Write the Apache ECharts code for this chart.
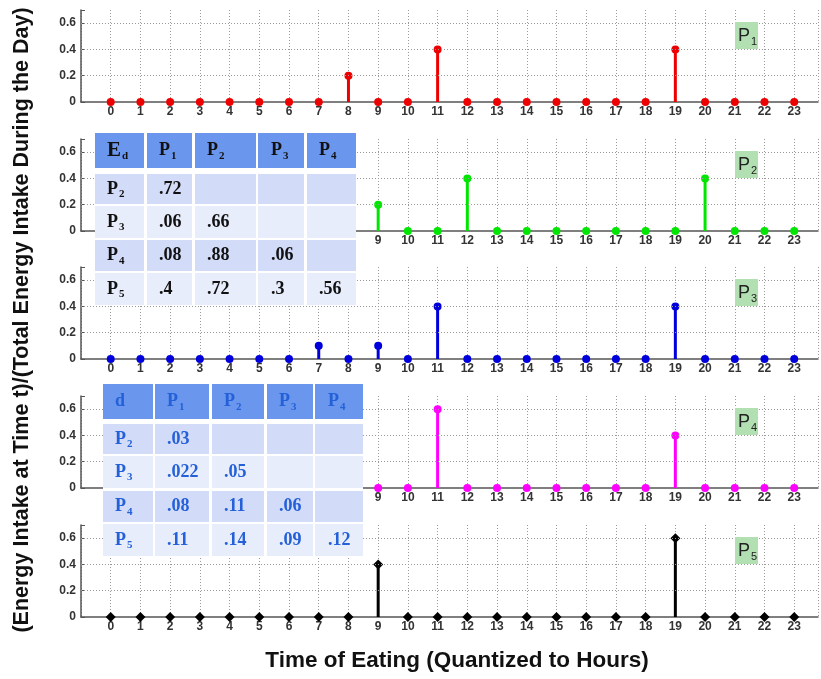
<!DOCTYPE html>
<html><head><meta charset="utf-8">
<script src="https://cdn.jsdelivr.net/npm/echarts@6/dist/echarts.min.js"></script>
<style>html,body{margin:0;padding:0;background:#fff}#c{width:821px;height:679px}</style>
</head><body><div id="c"></div>
<script>
// ---- data ----
const hours = [0,1,2,3,4,5,6,7,8,9,10,11,12,13,14,15,16,17,18,19,20,21,22,23];
const yTicks = [0, 0.2, 0.4, 0.6];
const p1 = [0,0,0,0,0,0,0,0,0.2,0,0,0.4,0,0,0,0,0,0,0,0.4,0,0,0,0];
const p2 = [0,0,0,0,0,0,0,0,0,0.2,0,0,0.4,0,0,0,0,0,0,0,0.4,0,0,0];
const p3 = [0,0,0,0,0,0,0,0.1,0,0.1,0,0.4,0,0,0,0,0,0,0,0.4,0,0,0,0];
const p4 = [0,0,0,0,0,0,0,0,0,0,0,0.6,0,0,0,0,0,0,0,0.4,0,0,0,0];
const p5 = [0,0,0,0,0,0,0,0,0,0.4,0,0,0,0,0,0,0,0,0,0.6,0,0,0,0];
const panelNames = ['1','2','3','4','5'];
const edHeader = ['E_d','P_1','P_2','P_3','P_4'];
const edRows = [
  ['P_2','.72','','',''],
  ['P_3','.06','.66','',''],
  ['P_4','.08','.88','.06',''],
  ['P_5','.4','.72','.3','.56']
];
const dHeader = ['d','P_1','P_2','P_3','P_4'];
const dRows = [
  ['P_2','.03','','',''],
  ['P_3','.022','.05','',''],
  ['P_4','.08','.11','.06',''],
  ['P_5','.11','.14','.09','.12']
];
const yTitle = '(Energy Intake at Time t)/(Total Energy Intake During the Day)';
const xTitle = 'Time of Eating (Quantized to Hours)';

// ---- layout / style ----
const series = [p1,p2,p3,p4,p5];
const colors = ['#ee0000','#00e600','#0000dd','#ff00ff','#000000'];
const symbols = ['circle','circle','circle','circle','diamond'];
const gridTops = [10,139,267,396,525];
const gridH = 92;
const grids=[], xAxes=[], yAxes=[], ser=[];
series.forEach((vals,i)=>{
  grids.push({left:81,right:0,top:gridTops[i],height:gridH});
  xAxes.push({type:'value',gridIndex:i,min:-1,max:23.8,interval:1,
    axisLine:{show:true,onZero:false,lineStyle:{color:'#555',width:1.5}},
    axisTick:{show:false},
    axisLabel:{fontSize:12,fontWeight:'bold',color:'#333',fontFamily:'Liberation Sans',margin:4,
      showMinLabel:true,showMaxLabel:true,
      formatter:v=> (v>=0 && Math.abs(v-Math.round(v))<1e-6) ? String(Math.round(v)) : ''},
    splitLine:{show:true,lineStyle:{color:'#9a9a9a',width:1,type:[1,2]}}
  });
  yAxes.push({type:'value',gridIndex:i,min:0,max:0.7,interval:0.2,
    axisLine:{show:true,onZero:false,lineStyle:{color:'#555',width:1.5}},
    axisTick:{show:true,inside:true,length:4,lineStyle:{color:'#555'}},
    axisLabel:{fontSize:12,fontWeight:'bold',color:'#333',fontFamily:'Liberation Sans',margin:5,
      formatter:v=> yTicks.some(t=>Math.abs(t-v)<1e-6) ? String(+v.toFixed(1)) : ''},
    splitLine:{show:false}
  });
  const pts = hours.map((h,k)=>[h, vals[k]]);
  ser.push({type:'bar',xAxisIndex:i,yAxisIndex:i,data:pts,barWidth:3,z:3,
    itemStyle:{color:colors[i],opacity:1},silent:true,
    markLine:{silent:true,symbol:'none',label:{show:false},
      lineStyle:{color:'#9a9a9a',width:1,type:[1,2]},
      data: yTicks.filter(t=>t>0).map(t=>({yAxis:t}))}
  });
  ser.push({type:'scatter',xAxisIndex:i,yAxisIndex:i,data:pts,
    symbol:symbols[i],symbolSize:symbols[i]==='diamond'?10:8,z:4,
    itemStyle:{color:colors[i],opacity:1},silent:true});
});

// ---- graphics: P labels, tables, titles ----
const graphics = [];
gridTops.forEach((t,i)=>{
  graphics.push({type:'rect',z:100,shape:{x:735,y:t+12,width:23,height:27},style:{fill:'#b3e0b3'}});
  graphics.push({type:'text',z:101,x:738,y:t+26,style:{
    text:'{m|P}{s|'+panelNames[i]+'}',verticalAlign:'middle',align:'left',
    rich:{m:{fontSize:18,fontFamily:'Liberation Sans',fill:'#222'},
          s:{fontSize:11,fontFamily:'Liberation Sans',fill:'#222',padding:[11,0,0,1]}}}});
});

function cellText(str){
  if(str.indexOf('_')>=0){
    const [a,b]=str.split('_');
    return '{'+(a==='E'?'e':'m')+'|'+a+'}{s|'+b+'}';
  }
  return '{m|'+str+'}';
}
function drawTable(header, rows, colEdges, rowEdges, textX, textColor){
  const fills = ['#6a96ee','#d2dbf8','#e8edfb','#d2dbf8','#e8edfb'];
  const all = [header].concat(rows);
  const x0 = colEdges[0][0], x1 = colEdges[colEdges.length-1][1];
  const y0 = rowEdges[0][0], y1 = rowEdges[rowEdges.length-1][1];
  graphics.push({type:'rect',z:99,shape:{x:x0,y:y0,width:x1-x0,height:y1-y0},style:{fill:'#ffffff'}});
  all.forEach((row,r)=>{
    row.forEach((cell,c)=>{
      graphics.push({type:'rect',z:100,shape:{x:colEdges[c][0],y:rowEdges[r][0],
        width:colEdges[c][1]-colEdges[c][0],height:rowEdges[r][1]-rowEdges[r][0]},
        style:{fill:fills[r]}});
      if(cell!==''){
        graphics.push({type:'text',z:101,x:textX[c],y:(rowEdges[r][0]+rowEdges[r][1])/2,style:{
          text:cellText(cell),verticalAlign:'middle',align:'left',
          rich:{
            m:{fontSize:18,fontWeight:'bold',fontFamily:'Liberation Serif',fill:textColor},
            e:{fontSize:21,fontWeight:'bold',fontFamily:'Liberation Serif',fill:textColor},
            s:{fontSize:11,fontWeight:'bold',fontFamily:'Liberation Serif',fill:textColor,padding:[11,0,0,1]}
          }}});
      }
    });
  });
}
drawTable(edHeader, edRows,
  [[95,144],[147,192],[195,256],[258,304],[307,356]],
  [[133,168],[174,204],[206,238],[240,271],[273,305]],
  [107,159,207,271,319], '#111');
drawTable(dHeader, dRows,
  [[103,153],[155,209],[212,264],[267,313],[315,363]],
  [[384,419],[424,454],[456,488],[491,522],[524,556]],
  [115,167,224,279,328], '#2460d8');

graphics.push({type:'text',z:101,x:22,y:320,rotation:Math.PI/2,style:{
  text:yTitle,align:'center',verticalAlign:'middle',fill:'#111',
  font:'bold 21.5px "Liberation Sans", Arial, sans-serif'}});
graphics.push({type:'text',z:101,x:457,y:661,style:{
  text:xTitle,align:'center',verticalAlign:'middle',fill:'#111',
  font:'bold 22.5px "Liberation Sans", Arial, sans-serif'}});

const chart = echarts.init(document.getElementById('c'),null,{renderer:'canvas'});
chart.setOption({
  animation:false,
  backgroundColor:'#fff',
  grid:grids, xAxis:xAxes, yAxis:yAxes, series:ser,
  graphic:graphics
});
</script></body></html>
